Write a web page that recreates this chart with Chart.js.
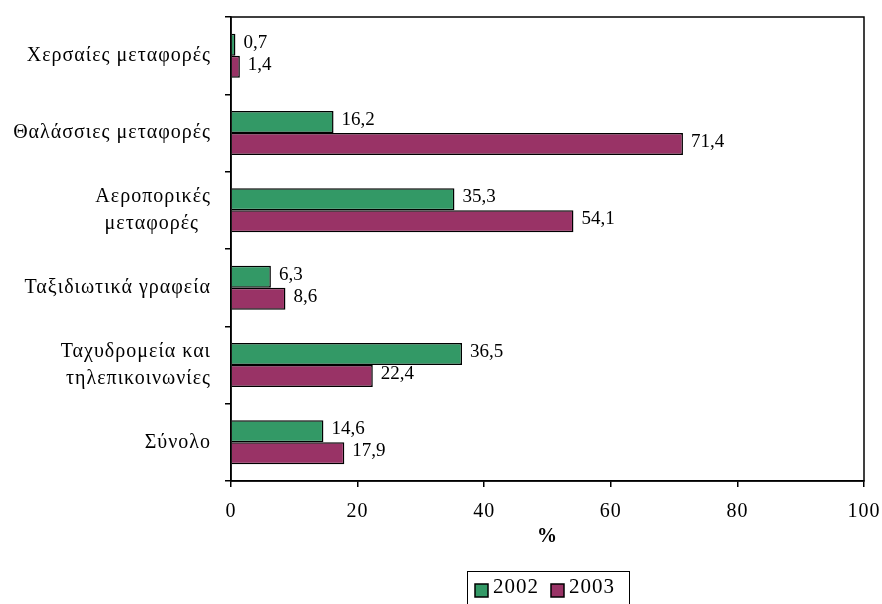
<!DOCTYPE html>
<html>
<head>
<meta charset="utf-8">
<script src="https://cdn.jsdelivr.net/npm/chart.js@4/dist/chart.umd.min.js"></script>
<style>
  html, body { margin: 0; padding: 0; background: #fff; }
  #wrap { width: 882px; height: 604px; position: relative; }
</style>
</head>
<body>
<div id="wrap"><canvas id="chart"></canvas></div>
<script>
// categories (top to bottom)
const categories = [
  "Χερσαίες μεταφορές",
  "Θαλάσσιες μεταφορές",
  ["Αεροπορικές", "μεταφορές  "],
  "Ταξιδιωτικά γραφεία",
  ["Ταχυδρομεία και", "τηλεπικοινωνίες"],
  "Σύνολο"
];
const values2002 = [0.7, 16.2, 35.3, 6.3, 36.5, 14.6];
const values2003 = [1.4, 71.4, 54.1, 8.6, 22.4, 17.9];
const seriesNames = ["2002", "2003"];
const xTicks = [0, 20, 40, 60, 80, 100];

const FONT = "'Liberation Serif', 'Times New Roman', serif";

// αραιό γράμμα όπως στο πρωτότυπο
const spacing = {
  id: "spacing",
  beforeDraw(chart) {
    chart.ctx.letterSpacing = "1px";
  }
};

// ετικέτες τιμών δίπλα στις μπάρες
const valueLabels = {
  id: "valueLabels",
  afterDatasetsDraw(chart) {
    const ctx = chart.ctx;
    ctx.save();
    ctx.letterSpacing = "0px";
    ctx.font = "19px " + FONT;
    ctx.fillStyle = "#000";
    ctx.textAlign = "left";
    ctx.textBaseline = "middle";
    chart.data.datasets.forEach((ds, i) => {
      chart.getDatasetMeta(i).data.forEach((bar, j) => {
        const txt = String(ds.data[j]).replace(".", ",");
        ctx.fillText(txt, bar.x + 8, bar.y - 2);
      });
    });
    ctx.restore();
  }
};

// πλαίσιο γύρω από την περιοχή σχεδίασης + υπόμνημα
const frameAndLegend = {
  id: "frameAndLegend",
  afterDraw(chart) {
    const ctx = chart.ctx;
    const a = chart.chartArea;
    ctx.save();
    ctx.strokeStyle = "#000";
    ctx.lineWidth = 1.5;
    ctx.strokeRect(a.left, a.top, a.right - a.left, a.bottom - a.top);

    // υπόμνημα
    ctx.letterSpacing = "1px";
    ctx.font = "21px " + FONT;
    ctx.textBaseline = "alphabetic";
    const box = 13, gapBox = 5, gapItem = 12, padL = 8, padR = 14;
    const items = chart.data.datasets.map(ds => ({
      label: ds.label, color: ds.backgroundColor,
      w: box + gapBox + ctx.measureText(ds.label).width
    }));
    const total = items.reduce((s, it) => s + it.w, 0) + gapItem * (items.length - 1) + padL + padR;
    const left = Math.round((a.left + a.right) / 2 - total / 2);
    const top = 571;
    ctx.lineWidth = 1;
    ctx.strokeRect(left + 0.5, top + 0.5, total, 40);
    let x = left + padL;
    items.forEach(it => {
      ctx.fillStyle = it.color;
      ctx.fillRect(x, top + 13, box, box);
      ctx.lineWidth = 1.5;
      ctx.strokeRect(x, top + 13, box, box);
      ctx.fillStyle = "#000";
      ctx.fillText(it.label, x + box + gapBox, top + 22);
      x += it.w + gapItem;
    });
    ctx.restore();
  }
};

new Chart(document.getElementById("chart"), {
  type: "bar",
  data: {
    labels: categories,
    datasets: [
      {
        label: seriesNames[0],
        data: values2002,
        backgroundColor: "#339966",
        borderColor: "#000",
        borderWidth: 1.5,
        categoryPercentage: 0.57,
        barPercentage: 1.0
      },
      {
        label: seriesNames[1],
        data: values2003,
        backgroundColor: "#993366",
        borderColor: "#000",
        borderWidth: 1.5,
        categoryPercentage: 0.57,
        barPercentage: 1.0
      }
    ]
  },
  options: {
    indexAxis: "y",
    responsive: true,
    maintainAspectRatio: false,
    animation: false,
    layout: { padding: { top: 17, right: 18, bottom: 55, left: 0 } },
    plugins: {
      legend: { display: false },
      tooltip: { enabled: false }
    },
    scales: {
      x: {
        min: 0,
        max: 100,
        afterBuildTicks: scale => { scale.ticks = xTicks.map(v => ({ value: v })); },
        afterFit: scale => {
          scale.height = 68;
          scale.paddingLeft = 0;
          scale.paddingRight = 0;
        },
        ticks: {
          color: "#000",
          font: { family: FONT, size: 20 },
          padding: 13
        },
        grid: {
          drawOnChartArea: false,
          drawTicks: true,
          tickLength: 6,
          color: "#000",
          lineWidth: 1.5
        },
        border: { display: true, color: "#000", width: 1.5 },
        title: {
          display: true,
          text: "%",
          color: "#000",
          font: { family: FONT, size: 20, weight: "bold" },
          padding: { top: 0, bottom: 0 }
        }
      },
      y: {
        afterFit: scale => {
          scale.width = 231;
          scale.paddingTop = 0;
          scale.paddingBottom = 0;
        },
        ticks: {
          color: "#000",
          font: { family: FONT, size: 20, lineHeight: 1.35 },
          padding: 14
        },
        grid: {
          offset: true,
          drawOnChartArea: false,
          drawTicks: true,
          tickLength: 6,
          color: "#000",
          lineWidth: 1.5
        },
        border: { display: true, color: "#000", width: 1.5 }
      }
    }
  },
  plugins: [spacing, valueLabels, frameAndLegend]
});
</script>
</body>
</html>
